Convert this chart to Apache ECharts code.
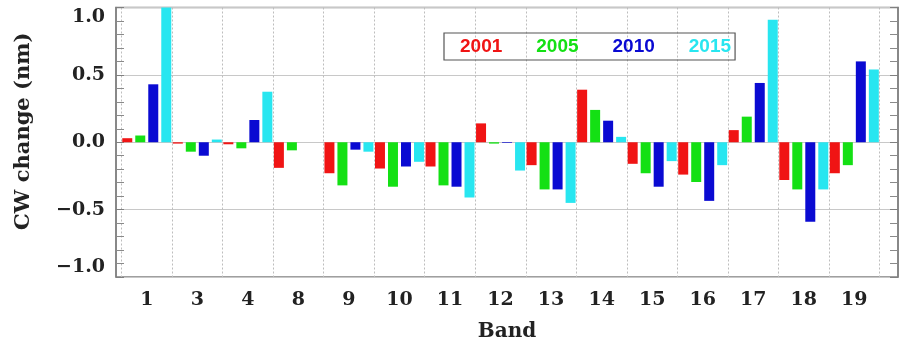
<!DOCTYPE html>
<html>
<head>
<meta charset="utf-8">
<script src="https://cdn.jsdelivr.net/npm/echarts@6/dist/echarts.min.js"></script>
<style>
  html, body { margin: 0; padding: 0; background: #fff; }
  #chart { width: 899px; height: 342px; }
</style>
</head>
<body>
<div id="chart"></div>
<script>
// Band labels along the x axis
const bands = ['1', '3', '4', '8', '9', '10', '11', '12', '13', '14', '15', '16', '17', '18', '19'];

// Change in central wavelength (nm) per band, one array per year
const cw2001 = [0.03, -0.01, -0.015, -0.19, -0.23, -0.195, -0.18, 0.14, -0.17, 0.39, -0.16, -0.24, 0.09, -0.28, -0.23];
const cw2005 = [0.05, -0.07, -0.045, -0.06, -0.32, -0.33, -0.32, -0.01, -0.35, 0.24, -0.23, -0.295, 0.19, -0.35, -0.17];
const cw2010 = [0.43, -0.10, 0.165, 0, -0.055, -0.18, -0.33, -0.005, -0.35, 0.16, -0.33, -0.435, 0.44, -0.59, 0.60];
const cw2015 = [1.05, 0.02, 0.375, 0, -0.07, -0.145, -0.41, -0.21, -0.45, 0.04, -0.14, -0.17, 0.91, -0.35, 0.54];

const years = ['2001', '2005', '2010', '2015'];
const colors = ['#f01414', '#14e014', '#0a0ad2', '#28e6f0'];
const seriesValues = [cw2001, cw2005, cw2010, cw2015];

// Y axis range and tick step
const yMin = -1.0, yMax = 1.0, yStep = 0.5;

const serif = 'DejaVu Serif';
const fmt = v => v.toFixed(1).replace('-', '\u2212');

const chart = echarts.init(document.getElementById('chart'), null, { renderer: 'canvas' });

const frameTop = 7.5, frameBottom = 65;

chart.setOption({
  animation: false,
  backgroundColor: '#ffffff',
  grid: [
    // outer frame carrying the value axes
    { left: 116, right: 1, top: frameTop, bottom: frameBottom, show: true,
      borderColor: '#808080', borderWidth: 1.5, backgroundColor: 'transparent',
      outerBoundsMode: 'none', containLabel: false },
    // inner band area holding the bars
    { left: 121.5, right: 19.4, top: frameTop, bottom: frameBottom,
      outerBoundsMode: 'none', containLabel: false }
  ],
  legend: {
    left: 444, top: 33,
    orient: 'horizontal',
    icon: 'none',
    itemWidth: 0, itemHeight: 0,
    itemGap: 29,
    padding: [4, 4, 4, 11],
    borderColor: '#555',
    borderWidth: 1.2,
    data: years.map((y, i) => ({
      name: y,
      textStyle: { color: colors[i], fontFamily: 'Liberation Sans', fontWeight: 'bold', fontSize: 19 }
    }))
  },
  xAxis: [
    { type: 'value', gridIndex: 0, min: 0, max: 1,
      axisLine: { show: false }, axisTick: { show: false }, axisLabel: { show: false },
      splitLine: { show: false },
      name: 'Band', nameLocation: 'middle', nameGap: 45,
      nameTextStyle: { fontFamily: serif, fontWeight: 'bold', fontSize: 20, color: '#222' } },
    { type: 'category', gridIndex: 1, data: bands,
      axisLine: { show: false }, axisTick: { show: false },
      axisLabel: { fontFamily: serif, fontWeight: 'bold', fontSize: 19, color: '#222', margin: 14 },
      splitLine: { show: true, lineStyle: { color: '#bdbdbd', width: 1, type: [2, 2] } } }
  ],
  yAxis: [
    { type: 'value', gridIndex: 0, position: 'left', min: yMin, max: yMax, interval: yStep,
      axisLine: { show: true, lineStyle: { color: '#808080', width: 1.5 } },
      axisTick: { show: true, inside: true, length: 8, lineStyle: { color: '#808080' } },
      minorTick: { show: true, splitNumber: 5, length: 8, lineStyle: { color: '#8a8a8a' } },
      splitLine: { show: true, lineStyle: { color: '#c8c8c8', width: 1 } },
      axisLabel: { formatter: fmt, fontFamily: serif, fontWeight: 'bold', fontSize: 19, color: '#222',
        margin: 11, verticalAlignMaxLabel: 'top', verticalAlignMinLabel: 'bottom' },
      name: 'CW change (nm)', nameLocation: 'middle', nameGap: 82, nameRotate: 90,
      nameTextStyle: { fontFamily: serif, fontWeight: 'bold', fontSize: 21, color: '#222', padding: [0, 0, 0, 22] } },
    { type: 'value', gridIndex: 0, position: 'right', min: yMin, max: yMax, interval: yStep,
      axisLine: { show: true, lineStyle: { color: '#808080', width: 1.5 } },
      axisTick: { show: true, inside: true, length: 8, lineStyle: { color: '#808080' } },
      minorTick: { show: true, splitNumber: 5, length: 8, lineStyle: { color: '#8a8a8a' } },
      splitLine: { show: false }, axisLabel: { show: false } },
    { type: 'value', gridIndex: 1, min: yMin, max: yMax, interval: yStep, show: false,
      splitLine: { show: false } }
  ],
  series: seriesValues.map((vals, i) => ({
    name: years[i],
    type: 'bar',
    xAxisIndex: 1,
    yAxisIndex: 2,
    data: vals,
    barWidth: 10,
    barGap: '30%',
    itemStyle: { color: colors[i] },
    clip: true
  }))
});
</script>
</body>
</html>
